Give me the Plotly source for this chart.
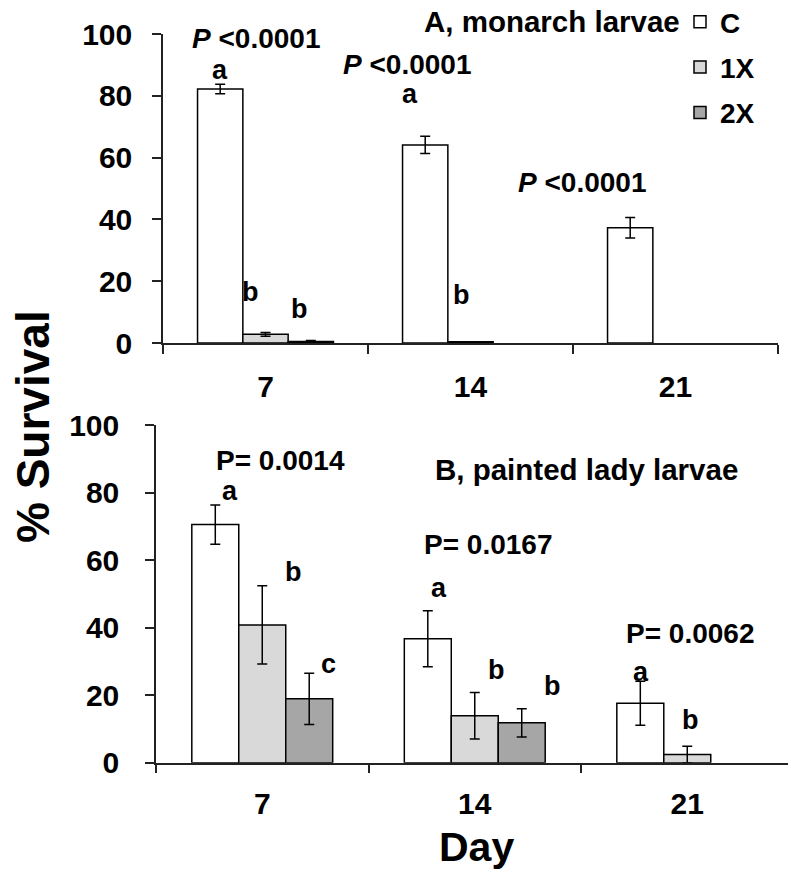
import plotly.graph_objects as go

days = ["7", "14", "21"]
groups = ["C", "1X", "2X"]
colors = ["#ffffff", "#d9d9d9", "#a6a6a6"]

# Panel A: monarch larvae
monarch = {
    "C": [82.2, 64.1, 37.3],
    "1X": [2.8, 0.4, None],
    "2X": [0.5, None, None],
}
monarch_err = {
    "C": [1.5, 2.8, 3.3],
    "1X": [0.6, 0.0, None],
    "2X": [0.3, None, None],
}

# Panel B: painted lady larvae
lady = {
    "C": [70.5, 36.7, 17.6],
    "1X": [40.8, 13.9, 2.4],
    "2X": [18.9, 11.8, None],
}
lady_err = {
    "C": [5.8, 8.3, 6.5],
    "1X": [11.6, 6.9, 2.5],
    "2X": [7.6, 4.2, None],
}

yticks = [0, 20, 40, 60, 80, 100]

FONT = "Liberation Sans, Arial, sans-serif"
W, H = 788, 871

fig = go.Figure()
for i, g in enumerate(groups):
    fig.add_trace(go.Bar(
        x=days, y=monarch[g], name=g, legendgroup=g,
        marker=dict(color=colors[i], line=dict(color="black", width=1.5)),
        error_y=dict(type="data", array=monarch_err[g], color="black", thickness=1.5, width=5),
        xaxis="x", yaxis="y", showlegend=True,
    ))
for i, g in enumerate(groups):
    fig.add_trace(go.Bar(
        x=days, y=lady[g], name=g, legendgroup=g,
        marker=dict(color=colors[i], line=dict(color="black", width=1.5)),
        error_y=dict(type="data", array=lady_err[g], color="black", thickness=1.5, width=5),
        xaxis="x2", yaxis="y2", showlegend=False,
    ))

tickfont = dict(family=FONT, size=30, color="black", weight="bold")
axis_common = dict(
    showline=True, linecolor="#222", linewidth=1.5,
    ticks="outside", ticklen=9, tickwidth=1.5, tickcolor="#222",
    tickfont=tickfont, showgrid=False, zeroline=False, fixedrange=True,
    automargin=False,
)

fig.update_layout(
    template="none",
    width=W, height=H,
    margin=dict(l=0, r=0, t=0, b=0, autoexpand=False),
    paper_bgcolor="white", plot_bgcolor="white",
    barmode="group", bargap=0.337, bargroupgap=0,
    xaxis=dict(domain=[163 / W, 778 / W], anchor="y", type="category",
               tickson="boundaries", range=[-0.5, 2.5], ticklabelstandoff=16,
               **axis_common),
    yaxis=dict(domain=[1 - 343 / H, 1 - 34 / H], anchor="x", range=[0, 100],
               tickvals=yticks, ticklabelstandoff=14, **axis_common),
    xaxis2=dict(domain=[156 / W, 1.0], anchor="y2", type="category",
                tickson="boundaries", range=[-0.5, 2.474], ticklabelstandoff=14,
                **axis_common),
    yaxis2=dict(domain=[1 - 762.7 / H, 1 - 425 / H], anchor="x2", range=[0, 100],
                tickvals=yticks, ticklabelstandoff=20, **axis_common),
    legend=dict(x=680 / W, y=1 + 3 / H, xanchor="left", yanchor="top",
                font=dict(family=FONT, size=28, color="black", weight="bold"),
                bgcolor="rgba(0,0,0,0)", traceorder="grouped", tracegroupgap=6,
                itemwidth=30),
    showlegend=True,
)

bold = dict(family=FONT, size=27, color="black", weight="bold")

def ann(text, x, y, xref, yref, size=27, **kw):
    f = dict(bold)
    f["size"] = size
    fig.add_annotation(text=text, x=x, y=y, xref=xref, yref=yref, showarrow=False,
                       font=f, xanchor="center", yanchor="middle", **kw)

# Panel A labels
ann("<i>P</i> &lt;0.0001", -0.046, 98.4, "x", "y", size=28)
ann("<i>P</i> &lt;0.0001", 0.690, 90.0, "x", "y", size=28)
ann("<i>P</i> &lt;0.0001", 1.544, 51.8, "x", "y", size=28)
ann("a", -0.222, 88.2, "x", "y")
ann("b", -0.071, 16.5, "x", "y")
ann("b", 0.168, 11.0, "x", "y")
ann("a", 0.705, 80.6, "x", "y")
ann("b", 0.954, 15.5, "x", "y")
ann("A, monarch larvae", 552 / W, 1 - 22 / H, "paper", "paper", size=29.5)

# Panel B labels
ann("P= 0.0014", 0.084, 89.5, "x2", "y2", size=28)
ann("a", -0.152, 80.4, "x2", "y2")
ann("b", 0.145, 56.5, "x2", "y2")
ann("c", 0.314, 29.2, "x2", "y2")
ann("B, painted lady larvae", 1.524, 86.7, "x2", "y2", size=29.5)
ann("P= 0.0167", 1.062, 64.5, "x2", "y2", size=28)
ann("a", 0.832, 51.7, "x2", "y2")
ann("b", 1.100, 27.4, "x2", "y2")
ann("b", 1.364, 22.7, "x2", "y2")
ann("P= 0.0062", 2.013, 38.4, "x2", "y2", size=28)
ann("a", 1.782, 26.9, "x2", "y2")
ann("b", 2.013, 12.6, "x2", "y2")

# Axis titles
ann("% Survival", 33 / W, 1 - 427 / H, "paper", "paper", size=46, textangle=-90)
ann("Day", 477 / W, 1 - 847 / H, "paper", "paper", size=41)

fig.write_html("out.html", config={"displayModeBar": False},
               post_script="document.body.style.margin='0px';")
